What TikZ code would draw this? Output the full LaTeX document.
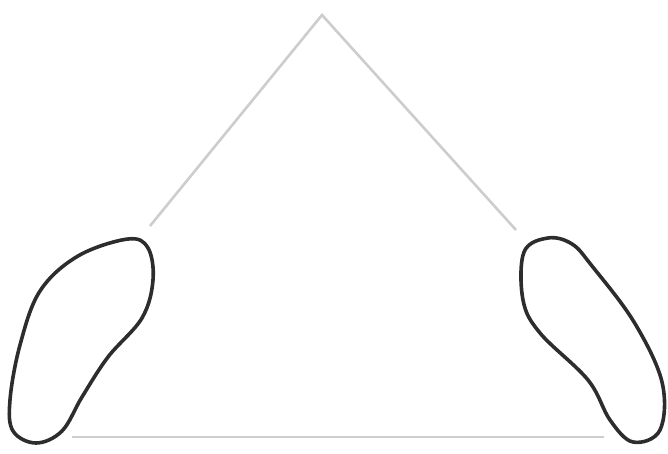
\documentclass[tikz,border=0pt]{standalone}
\begin{document}
\begin{tikzpicture}[x=1pt,y=-1pt,
  guide/.style={draw={rgb,255:red,205;green,205;blue,205},line width=2.6pt},
  foot/.style={draw={rgb,255:red,45;green,45;blue,45},line width=3.6pt,line join=round}]
\useasboundingbox (0,0) rectangle (668,454);
\coordinate (apex) at (322,15);
\coordinate (lend) at (150,226);
\coordinate (rend) at (516,230);
\coordinate (bl) at (72,437);
\coordinate (br) at (604,437);
\draw[guide] (lend) -- (apex) -- (rend);
\draw[guide] (bl) -- (br);
\draw[foot] plot[smooth cycle,tension=0.6] coordinates {
  (128,239) (148,248) (153,280) (142,318) (108,357) (82,397) (62,431) (36,443) (13,431) (10,400) (20,345) (40,291) (78,256)};
\draw[foot] plot[smooth cycle,tension=0.6] coordinates {
  (548,238) (524,252) (523,300) (540,333) (588,380) (610,420) (633,442) (660,430) (662,382) (634,322) (592,266) (572,244)};
\end{tikzpicture}
\end{document}
